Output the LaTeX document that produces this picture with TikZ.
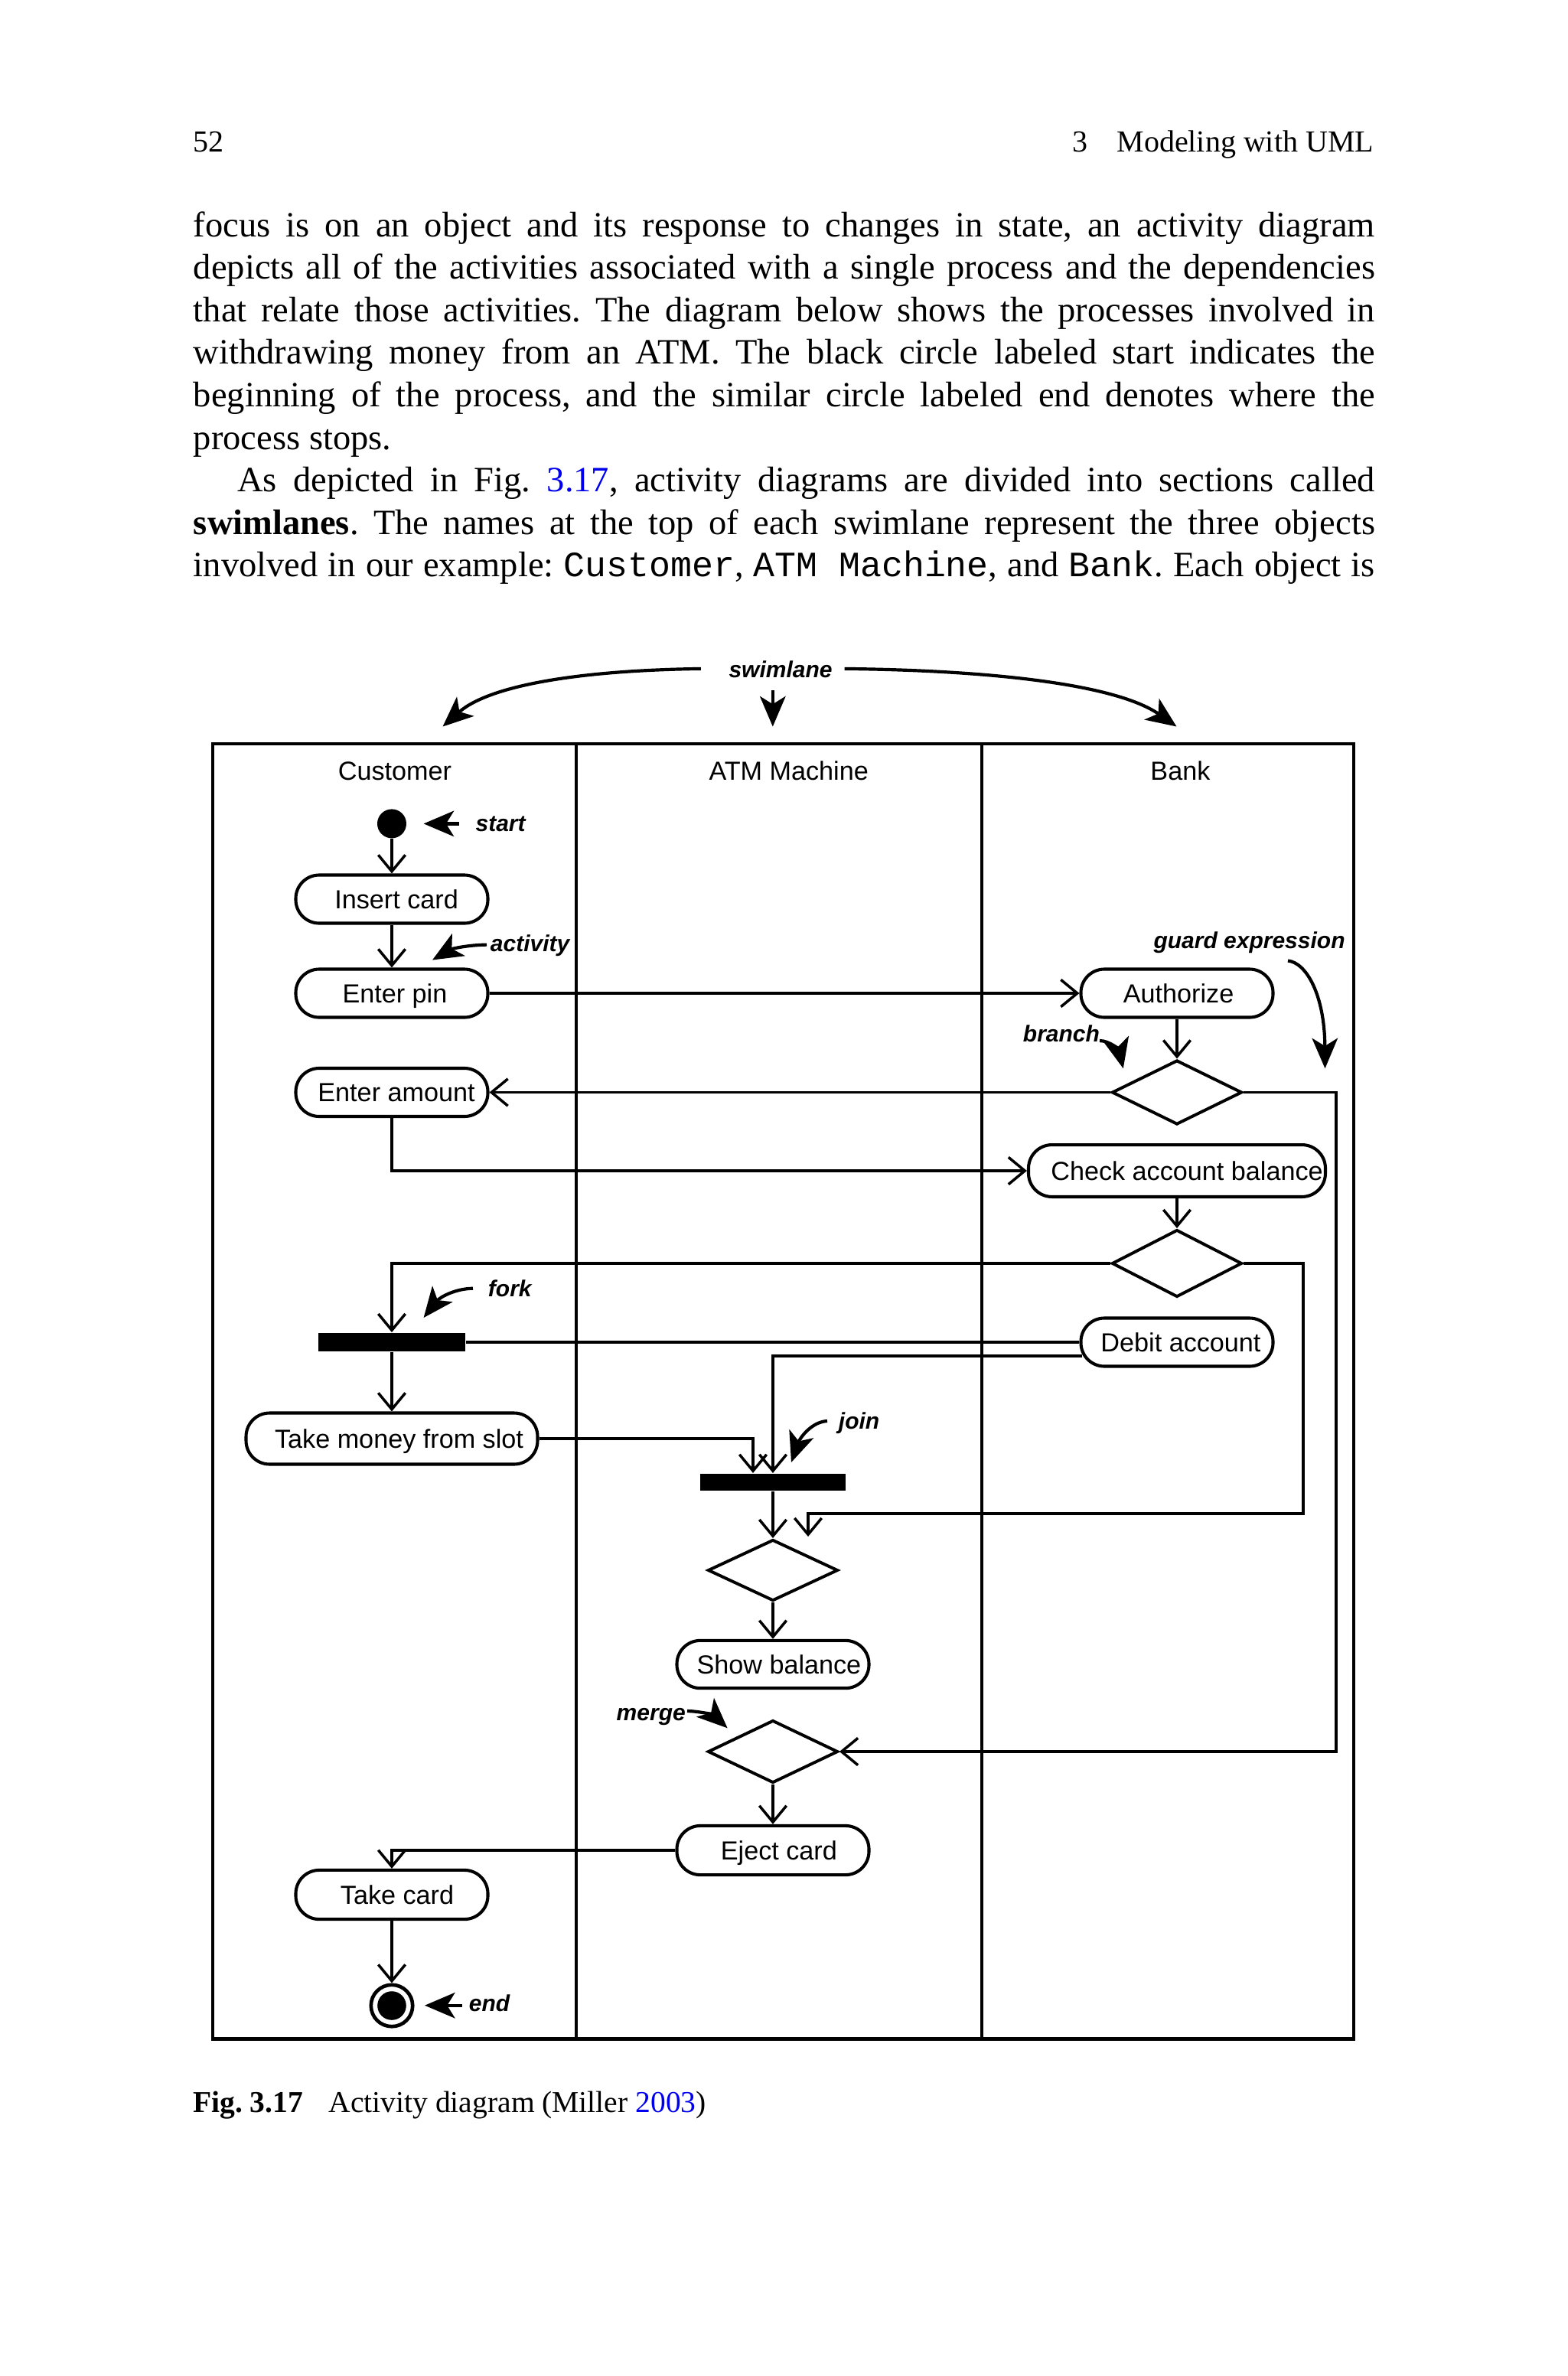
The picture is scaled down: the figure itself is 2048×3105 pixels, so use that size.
\documentclass[tikz,border=0pt]{standalone}
\usepackage{fontspec}
\setmainfont{Liberation Serif}
\setmonofont{Liberation Mono}
\newfontfamily\diagfont{Liberation Sans}
\usetikzlibrary{arrows.meta,shapes.geometric,calc}
\definecolor{linkblue}{RGB}{0,0,238}
\newcommand\tshift[1]{\hspace*{#1}}
\begin{document}
\frenchspacing
\begin{tikzpicture}[x=0.215pt,y=-0.215pt,
  body/.style={anchor=base west, inner sep=0pt, font={\fontsize{10pt}{12pt}\selectfont}},
  hdr/.style={inner sep=0pt, font={\fontsize{8.6pt}{10pt}\selectfont}},
  capt/.style={anchor=base west, inner sep=0pt, font={\fontsize{8.5pt}{10pt}\selectfont}},
  lane/.style={line width=0.95pt},
  lanelbl/.style={anchor=base, inner sep=0pt, font={\diagfont\fontsize{7.35pt}{8.8pt}\selectfont}},
  act/.style={draw, line width=0.88pt, rounded corners=6.6pt, inner sep=0pt,
    minimum width=53.97pt, minimum height=13.55pt, text height=5.3pt, text depth=0pt,
    font={\diagfont\fontsize{7.35pt}{8.8pt}\selectfont}},
  dec/.style={draw, diamond, line width=0.85pt, inner sep=0pt, minimum width=36.55pt, minimum height=18.06pt},
  bar/.style={fill=black, inner sep=0pt, minimum width=41.28pt, minimum height=5.16pt},
  startdot/.style={circle, fill=black, inner sep=0pt, minimum size=8.17pt},
  enddot/.style={circle, draw, line width=1pt, inner sep=0pt, minimum size=11.7pt},
  flow/.style={line width=0.75pt, -{Straight Barb[length=4.6pt,width=7.6pt]}},
  plain/.style={line width=0.75pt},
  ann/.style={line width=0.9pt, -{Stealth[length=8.5pt,width=7.2pt,inset=2.2pt]}},
  annlbl/.style={anchor=base west, inner sep=0pt, font={\diagfont\fontsize{6.45pt}{7.7pt}\selectfont\bfseries\itshape}}
]
\fill[white] (0,0) rectangle (2048,3105);
\useasboundingbox (0,0) rectangle (2048,3105);

% running head
\node[hdr, anchor=base west] (pg) at (252,198.2) {52};
\node[hdr, anchor=base west] (chn) at (1401,198.2) {3};
\node[hdr, anchor=base east] (cht) at (1796,198.2) {Modeling with UML};

% body text
\node[body] (t1) at (252,309) {\makebox[331.96pt][s]{focus is on an object and its response to changes in state, an activity diagram}};
\node[body] (t2) at (252,364.6) {\makebox[331.96pt][s]{depicts all of the activities associated with a single process and the dependencies}};
\node[body] (t3) at (252,420.2) {\makebox[331.96pt][s]{that relate those activities. The diagram below shows the processes involved in}};
\node[body] (t4) at (252,475.8) {\makebox[331.96pt][s]{withdrawing money from an ATM. The black circle labeled start indicates the}};
\node[body] (t5) at (252,531.4) {\makebox[331.96pt][s]{beginning of the process, and the similar circle labeled end denotes where the}};
\node[body] (t6) at (252,587) {process stops.};
\node[body] (t7) at (309.4,642.6) {\makebox[319.6pt][s]{As depicted in Fig. \textcolor{linkblue}{3.17}, activity diagrams are divided into sections called}};
\node[body] (t8) at (252,698.2) {\makebox[331.96pt][s]{\textbf{swimlanes}. The names at the top of each swimlane represent the three objects}};
\node[body] (t9) at (252,753.8) {\makebox[331.96pt][s]{involved in our example: \texttt{Customer}, \texttt{ATM Machine}, and \texttt{Bank}. Each object is}};

% swimlane frame
\draw[lane] (278,972) rectangle (1769,2664.6);
\draw[lane] (753,972) -- (753,2664.6);
\draw[lane] (1283,972) -- (1283,2664.6);
\node[lanelbl] (lc) at (516,1019.2) {Customer};
\node[lanelbl] (la) at (1030.7,1019.2) {ATM Machine};
\node[lanelbl] (lb) at (1542.4,1019.2) {Bank};

% activity nodes
\node[startdot] (st) at (512,1076.4) {};
\node[act] (ins) at (512,1175) {\tshift{2.6pt}Insert card};
\node[act] (pin) at (512,1298) {\tshift{1.7pt}Enter pin};
\node[act] (amt) at (512,1427.5) {\tshift{2.6pt}Enter amount};
\node[act] (auth) at (1538,1298) {\tshift{0.9pt}Authorize};
\node[dec] (d1) at (1538,1427.5) {};
\node[act, minimum width=83.42pt, minimum height=14.6pt] (chk) at (1538,1530) {\tshift{5.6pt}Check account balance};
\node[dec, minimum height=18.9pt] (d2) at (1538,1651) {};
\node[act] (deb) at (1538,1754) {\tshift{2.15pt}Debit account};
\node[bar] (fork) at (512,1754) {};
\node[act, minimum width=81.9pt, minimum height=14.4pt] (take) at (512,1880) {\tshift{4.1pt}Take money from slot};
\node[bar, minimum width=40.85pt, minimum height=4.8pt] (join) at (1010,1937) {};
\node[dec, minimum height=17.2pt] (d3) at (1010,2052) {};
\node[act, minimum height=13.4pt] (show) at (1010,2175) {\tshift{3.4pt}Show balance};
\node[dec, minimum height=17.6pt] (d4) at (1010,2289) {};
\node[act, minimum height=13.8pt] (ej) at (1010,2418) {\tshift{3.4pt}Eject card};
\node[act, minimum height=13.8pt] (tc) at (512,2476) {\tshift{3pt}Take card};
\node[enddot] (end) at (512,2621) {};
\fill (end.center) circle[radius=4.04pt];

% flows
\draw[flow] (st) -- (ins);
\draw[flow] (ins) -- (pin);
\draw[flow] (pin) -- (auth);
\draw[flow] (auth) -- (d1);
\draw[flow] (d1) -- (amt);
\draw[flow] (amt.south) |- (chk.west);
\draw[flow] (chk) -- (d2);
\draw[flow] (d2.west) -| (fork.north);
\draw[plain] (fork.east) -- (deb.west);
\draw[flow] (fork) -- (take);
\draw[flow] (take.east) -| ($(join.north)+(-26,0)$);
\draw[flow] ($(deb.west)+(4,18)$) -| (join.north);
\draw[flow] (join) -- (d3);
\draw[flow] (d3) -- (show);
\draw[flow] (d1.east) -- ++(121,0) |- (d4.east);
\draw[flow] (d2.east) -| ++(78,327) -| ($(d3.north)+(46,-2)$);
\draw[flow] (d4) -- (ej);
\draw[flow] (ej.west) -| (tc.north);
\draw[flow] (tc) -- (end);

% annotations
\node[annlbl] (aswim) at (951.6,885.8) {swimlane};
\node[annlbl] (astart) at (620.7,1086.3) {start};
\node[annlbl] (aact) at (640,1243) {activity};
\node[annlbl] (aguard) at (1506.6,1239) {guard expression};
\node[annlbl] (abr) at (1336,1361.4) {branch};
\node[annlbl] (afork) at (637,1694.6) {fork};
\node[annlbl] (ajoin) at (1095,1867.3) {join};
\node[annlbl] (amerge) at (804.8,2248) {merge};
\node[annlbl] (aend) at (612,2628.6) {end};

\coordinate (swLt) at (915.8,873.9);  \coordinate (swL) at (578.5,949.5);
\coordinate (swRt) at (1103.6,873.9); \coordinate (swR) at (1537.5,949.5);
\coordinate (swMt) at (1009.8,902);   \coordinate (swM) at (1009.8,949.5);
\coordinate (stt) at (600,1076.4);    \coordinate (stp) at (553.6,1076.4);
\coordinate (act1) at (636,1234.6);   \coordinate (act2) at (565,1254.5);
\coordinate (fk1) at (618,1683.7);    \coordinate (fk2) at (553.6,1722);
\coordinate (jn1) at (1081,1857);     \coordinate (jn2) at (1034,1911);
\coordinate (br1) at (1437,1360);     \coordinate (br2) at (1467.8,1396.3);
\coordinate (gd1) at (1683,1255.5);   \coordinate (gd2) at (1731.5,1396.3);
\coordinate (mg1) at (898,2236);      \coordinate (mg2) at (950.6,2258.3);
\coordinate (en1) at (604,2620.7);    \coordinate (en2) at (555,2620.7);

\draw[ann] (swLt) .. controls (760,876) and (640,895) .. (swL);
\draw[ann] (swRt) .. controls (1300,876) and (1460,895) .. (swR);
\draw[ann] (swMt) -- (swM);
\draw[ann] (stt) -- (stp);
\draw[ann] (act1) .. controls (610,1235) and (590,1240) .. (act2);
\draw[ann] (fk1) .. controls (595,1684) and (575,1695) .. (fk2);
\draw[ann] (jn1) .. controls (1060,1858) and (1045,1880) .. (jn2);
\draw[ann] (br1) .. controls (1450,1360) and (1462,1372) .. (br2);
\draw[ann] (gd1) .. controls (1707,1258) and (1731,1300) .. (gd2);
\draw[ann] (mg1) .. controls (912,2236) and (932,2241) .. (mg2);
\draw[ann] (en1) -- (en2);

% caption
\node[capt] (cap1) at (251.2,2760) {\bfseries Fig.\ 3.17};
\node[capt] (cap2) at (428.8,2760) {Activity diagram (Miller \textcolor{linkblue}{2003})};
\end{tikzpicture}
\end{document}
